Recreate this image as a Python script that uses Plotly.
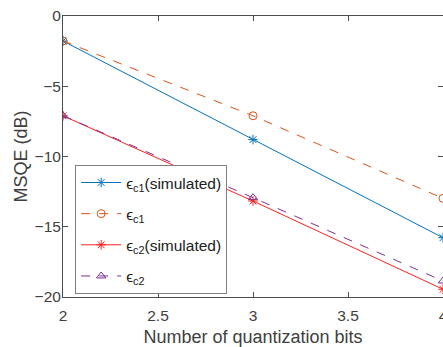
import plotly.graph_objects as go

bits = [2, 3, 4]
c1_sim = [-1.78, -8.8, -15.78]
c1_theory = [-1.78, -7.1, -12.98]
c2_sim = [-7.1, -13.17, -19.45]
c2_theory = [-7.1, -12.93, -18.86]

names = ["ϵ<sub>c1</sub>(simulated)", "ϵ<sub>c1</sub>", "ϵ<sub>c2</sub>(simulated)", "ϵ<sub>c2</sub>"]
colors = ["#0072BD", "#D95319", "#FF2020", "#7E2F8E"]
dashes = ["solid", "dash", "solid", "dash"]
symbols = ["asterisk-open", "circle-open", "asterisk-open", "triangle-up-open"]
series = [c1_sim, c1_theory, c2_sim, c2_theory]

fig = go.Figure()
for i, (n, c, d, s, y) in enumerate(zip(names, colors, dashes, symbols, series)):
    fig.add_trace(go.Scatter(
        x=bits, y=y, name=n, mode="lines+markers", legendgroup=f"g{i}",
        line=dict(color=c, width=1, dash=d),
        marker=dict(symbol=s, size=8, color=c, line=dict(color=c, width=1)),
    ))

axis_common = dict(
    showgrid=False, zeroline=False, showline=True, linecolor="#4d4d4d", linewidth=1,
    mirror="ticks", ticks="inside", ticklen=5, tickcolor="#4d4d4d",
    tickfont=dict(family="Liberation Sans, Arial", size=15.5, color="#404040"),
    ticklabeloverflow="allow", automargin=False,
)
title_font = dict(family="Liberation Sans, Arial", size=18, color="#404040")

fig.update_layout(
    width=443, height=347,
    margin=dict(l=63, r=0, t=16, b=50),
    paper_bgcolor="white", plot_bgcolor="white",
    xaxis=dict(range=[2, 4], tickvals=[2, 2.5, 3, 3.5, 4], ticktext=["2", "2.5", "3", "3.5", "4"],
               ticklabelstandoff=4,
               title=dict(text="Number of quantization bits", standoff=12, font=title_font),
               **axis_common),
    yaxis=dict(range=[-20, 0], tickvals=[0, -5, -10, -15, -20],
               ticklabelstandoff=-2,
               title=dict(text="MSQE (dB)", standoff=2, font=title_font),
               **axis_common),
    legend=dict(x=0.032, y=0.47, xanchor="left", yanchor="top",
                bgcolor="white", bordercolor="#7f7f7f", borderwidth=1,
                font=dict(family="Liberation Sans, Arial", size=15.5, color="#202020"),
                itemwidth=40, tracegroupgap=8),
    showlegend=True,
)

fig.write_html("out.html", config={"displayModeBar": False},
               post_script="document.body.style.margin='0';")
